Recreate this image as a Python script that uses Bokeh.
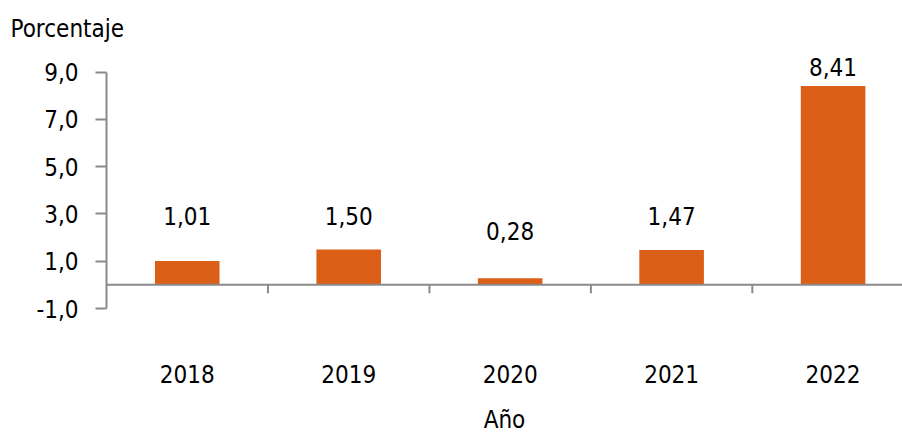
from bokeh.plotting import figure
from bokeh.models import Range1d, FixedTicker, Span, ColumnDataSource, LabelSet, Title
from bokeh.core.properties import value
from bokeh.embed import file_html
from bokeh.resources import INLINE

years = ["2018", "2019", "2020", "2021", "2022"]
values = [1.01, 1.50, 0.28, 1.47, 8.41]
value_labels = ["1,01", "1,50", "0,28", "1,47", "8,41"]
label_pos = [2.92, 2.92, 2.28, 2.92, 9.2]
y_ticks = [-1, 1, 3, 5, 7, 9]
y_tick_labels = ["-1,0", "1,0", "3,0", "5,0", "7,0", "9,0"]
x_title = "Año"
y_title = "Porcentaje"

FONT = "DejaVu Sans Condensed"
FS = "24px"
BAR = "#DC5F17"
GRAY = "#8a8a8a"

idx = list(range(len(years)))

p = figure(width=902, height=438, output_backend="svg", toolbar_location=None,
           x_range=Range1d(-0.5, 4.43), y_range=Range1d(-1, 10),
           min_border_left=106, min_border_right=0, min_border_top=48, min_border_bottom=130)
p.title = Title(text=y_title, align="left", text_font=FONT, text_font_size=FS,
                text_font_style="normal", text_color="black", offset=-96, standoff=12)
p.outline_line_color = None
p.xgrid.visible = False
p.ygrid.visible = False

src = ColumnDataSource(dict(x=idx, top=values, lab=value_labels, ly=label_pos))
p.vbar(x="x", top="top", bottom=0, width=0.40, source=src, fill_color=BAR, line_color=None)

p.add_layout(Span(location=0, dimension="width", line_color=GRAY, line_width=2))

bx = [i + 0.5 for i in idx[:-1]]
p.segment(x0=bx, y0=[0] * len(bx), x1=bx, y1=[-0.36] * len(bx), line_color=GRAY, line_width=2)

p.add_layout(LabelSet(x="x", y="ly", text="lab", source=src, text_align="center",
                      text_baseline="middle", text_font=value(FONT), text_font_size=value(FS),
                      text_color="black"))

ya = p.yaxis[0]
ya.ticker = FixedTicker(ticks=y_ticks)
ya.bounds = (-1, 9)
ya.major_label_overrides = {t: l for t, l in zip(y_ticks, y_tick_labels)}
ya.axis_line_color = GRAY
ya.axis_line_width = 2
ya.major_tick_line_color = GRAY
ya.major_tick_line_width = 2
ya.major_tick_out = 11
ya.major_tick_in = 0
ya.minor_tick_line_color = None
ya.major_label_standoff = 17
ya.major_label_text_font = FONT
ya.major_label_text_font_size = FS
ya.major_label_text_color = "black"

xa = p.xaxis[0]
xa.ticker = FixedTicker(ticks=idx)
xa.major_label_overrides = {i: y for i, y in zip(idx, years)}
xa.axis_line_color = None
xa.major_tick_line_color = None
xa.minor_tick_line_color = None
xa.major_label_standoff = 50
xa.major_label_text_font = FONT
xa.major_label_text_font_size = FS
xa.major_label_text_color = "black"
xa.axis_label = x_title
xa.axis_label_standoff = 20
xa.axis_label_text_font = FONT
xa.axis_label_text_font_size = FS
xa.axis_label_text_font_style = "normal"
xa.axis_label_text_color = "black"

open("out.html", "w").write(file_html(p, INLINE))
